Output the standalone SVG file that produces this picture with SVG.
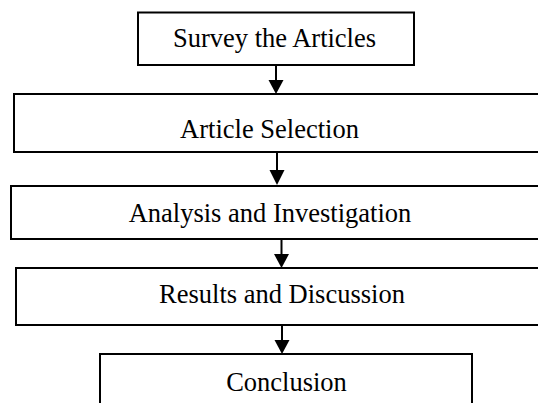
<svg xmlns="http://www.w3.org/2000/svg" width="538" height="403" viewBox="0 0 538 403">
<style>
.box{fill:#fff;stroke:#000;stroke-width:2}
.lbl{font-family:"Liberation Serif","Times New Roman",serif;font-size:26.5px;fill:#000;text-anchor:middle}
.ln{stroke:#000;stroke-width:2;fill:none}
.hd{fill:#000}
</style>
<rect width="538" height="403" fill="#fff"/>
<g id="connectors">
<line class="ln" x1="276" y1="65" x2="276" y2="82"/>
<polygon class="hd" points="268.5,80 283.5,80 276,94"/>
<line class="ln" x1="277" y1="152" x2="277" y2="172"/>
<polygon class="hd" points="269.5,170 284.5,170 277,185"/>
<line class="ln" x1="281.5" y1="239" x2="281.5" y2="256"/>
<polygon class="hd" points="274,254 289,254 281.5,268"/>
<line class="ln" x1="282" y1="325" x2="282" y2="342"/>
<polygon class="hd" points="274.5,340 289.5,340 282,354"/>
</g>
<g id="n1"><rect class="box" x="138" y="12.5" width="276" height="52.5"/><text class="lbl" x="274.5" y="46.5">Survey the Articles</text></g>
<g id="n2"><rect class="box" x="14" y="94" width="530" height="58"/><text class="lbl" x="269.5" y="138">Article Selection</text></g>
<g id="n3"><rect class="box" x="11" y="186" width="533" height="53"/><text class="lbl" x="270" y="221.5">Analysis and Investigation</text></g>
<g id="n4"><rect class="box" x="16" y="268" width="528" height="57"/><text class="lbl" x="282" y="303">Results and Discussion</text></g>
<g id="n5"><rect class="box" x="100" y="354" width="372" height="60"/><text class="lbl" x="286.5" y="390.5">Conclusion</text></g>
</svg>
